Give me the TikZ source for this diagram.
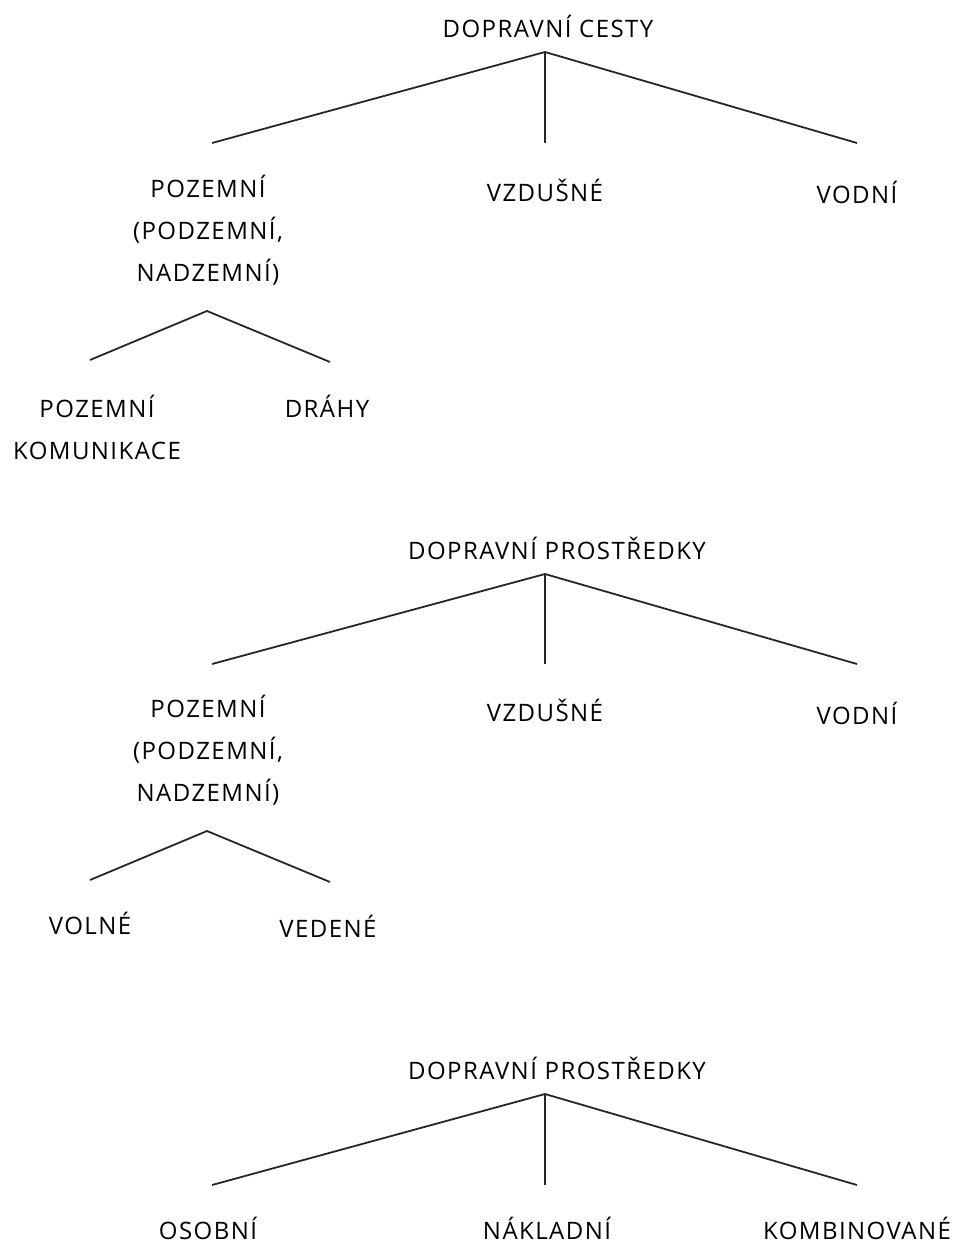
\documentclass[tikz,border=0pt]{standalone}
\usepackage{fontspec}
\setmainfont[LetterSpace=6]{Open Sans}
\usepackage{tikz}

\tikzset{
    word/.style={align=center, inner sep=0pt, font=\fontsize{24}{42}\selectfont},
    branch/.style={line width=1.8pt, black!85}
}

\begin{document}
\begin{tikzpicture}[x=1pt, y=-1pt]
    \useasboundingbox (0,0) rectangle (957,1243);

    % Dopravni cesty
    \node[word] (cesty) at (548,26) {DOPRAVNÍ CESTY};
    \coordinate (cA) at (545,52);
    \node[word] (cPoz) at (208,230) {POZEMNÍ\\(PODZEMNÍ,\\NADZEMNÍ)};
    \node[word] (cVzd) at (545,190) {VZDUŠNÉ};
    \node[word] (cVod) at (857,192) {VODNÍ};
    \coordinate (cL) at (212,143);
    \coordinate (cM) at (545,143);
    \coordinate (cR) at (857,143);
    \draw[branch] (cL) -- (cA) -- (cR);
    \draw[branch] (cA) -- (cM);

    \coordinate (cB) at (207,311);
    \node[word] (cKom) at (97,427) {POZEMNÍ\\KOMUNIKACE};
    \node[word] (cDra) at (327,406) {DRÁHY};
    \coordinate (cBL) at (90,360);
    \coordinate (cBR) at (330,362);
    \draw[branch] (cBL) -- (cB) -- (cBR);

    % Dopravni prostredky 1
    \node[word] (pros) at (557,548) {DOPRAVNÍ PROSTŘEDKY};
    \coordinate (pA) at (545,574);
    \node[word] (pPoz) at (208,750) {POZEMNÍ\\(PODZEMNÍ,\\NADZEMNÍ)};
    \node[word] (pVzd) at (545,710) {VZDUŠNÉ};
    \node[word] (pVod) at (857,713) {VODNÍ};
    \coordinate (pL) at (212,664);
    \coordinate (pM) at (545,664);
    \coordinate (pR) at (857,664);
    \draw[branch] (pL) -- (pA) -- (pR);
    \draw[branch] (pA) -- (pM);

    \coordinate (pB) at (207,831);
    \node[word] (pVol) at (90,923) {VOLNÉ};
    \node[word] (pVed) at (328,926) {VEDENÉ};
    \coordinate (pBL) at (90,880);
    \coordinate (pBR) at (330,882);
    \draw[branch] (pBL) -- (pB) -- (pBR);

    % Dopravni prostredky 2
    \node[word] (druh) at (557,1068) {DOPRAVNÍ PROSTŘEDKY};
    \coordinate (dA) at (545,1094);
    \node[word] (dOso) at (208,1228) {OSOBNÍ};
    \node[word] (dNak) at (547,1228) {NÁKLADNÍ};
    \node[word] (dKom) at (857,1228) {KOMBINOVANÉ};
    \coordinate (dL) at (212,1185);
    \coordinate (dM) at (545,1185);
    \coordinate (dR) at (857,1185);
    \draw[branch] (dL) -- (dA) -- (dR);
    \draw[branch] (dA) -- (dM);
\end{tikzpicture}
\end{document}
